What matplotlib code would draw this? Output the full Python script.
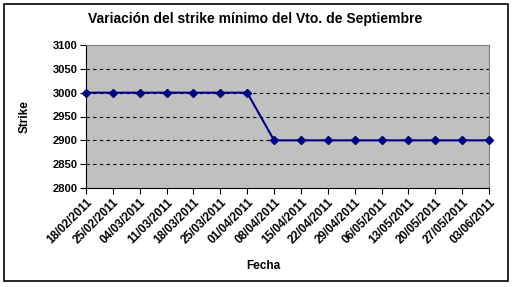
import matplotlib
matplotlib.use("Agg")
import matplotlib.pyplot as plt
from matplotlib.patches import Rectangle

dates = ["18/02/2011", "25/02/2011", "04/03/2011", "11/03/2011", "18/03/2011",
         "25/03/2011", "01/04/2011", "08/04/2011", "15/04/2011", "22/04/2011",
         "29/04/2011", "06/05/2011", "13/05/2011", "20/05/2011", "27/05/2011",
         "03/06/2011"]
strike = [3000, 3000, 3000, 3000, 3000, 3000, 3000, 2900, 2900, 2900,
          2900, 2900, 2900, 2900, 2900, 2900]
yticks = [2800, 2850, 2900, 2950, 3000, 3050, 3100]

plt.rcParams['font.family'] = ['Liberation Sans', 'DejaVu Sans']
fig = plt.figure(figsize=(5.12, 2.87), dpi=100)
fig.patch.set_facecolor('white')
fig.patches.append(Rectangle((4/512, 1-281/287), 504/512, 277/287, transform=fig.transFigure,
                             fill=False, edgecolor='black', linewidth=1.2))

ax = fig.add_axes([86/512, 1-188/287, 403/512, 143/287])
ax.set_facecolor('#C0C0C0')
x = list(range(len(dates)))
ax.plot(x, strike, color='#000080', linewidth=1.5, marker='D', markersize=4,
        markerfacecolor='#000080', markeredgecolor='#000080', zorder=3, clip_on=False)
ax.set_xlim(0, len(dates) - 1)
ax.set_ylim(2800, 3100)
ax.set_yticks(yticks)
ax.set_yticklabels([str(v) for v in yticks], fontsize=8, fontweight='bold')
ax.set_xticks(x)
ax.set_xticklabels(dates, rotation=45, ha='right', rotation_mode='anchor',
                   fontsize=8.5, fontweight='bold')
for v in yticks[1:-1]:
    ax.axhline(v, color='black', linestyle=(0, (3, 3)), linewidth=0.8, zorder=1)
for s in ax.spines.values():
    s.set_color('#808080')
    s.set_linewidth(0.8)
ax.spines['left'].set_color('black')
ax.spines['bottom'].set_color('black')
ax.tick_params(axis='both', direction='out', length=4, width=0.8, pad=2)

ax.set_ylabel('Strike', fontsize=8.5, fontweight='bold', labelpad=16)
fig.text(263/512, 1 - 266/287, 'Fecha', ha='center', va='center',
         fontsize=8.5, fontweight='bold')
fig.text(255/512, 1 - 19/287, 'Variación del strike mínimo del Vto. de Septiembre',
         ha='center', va='center', fontsize=10, fontweight='bold')

fig.savefig('out.png', dpi=100)
